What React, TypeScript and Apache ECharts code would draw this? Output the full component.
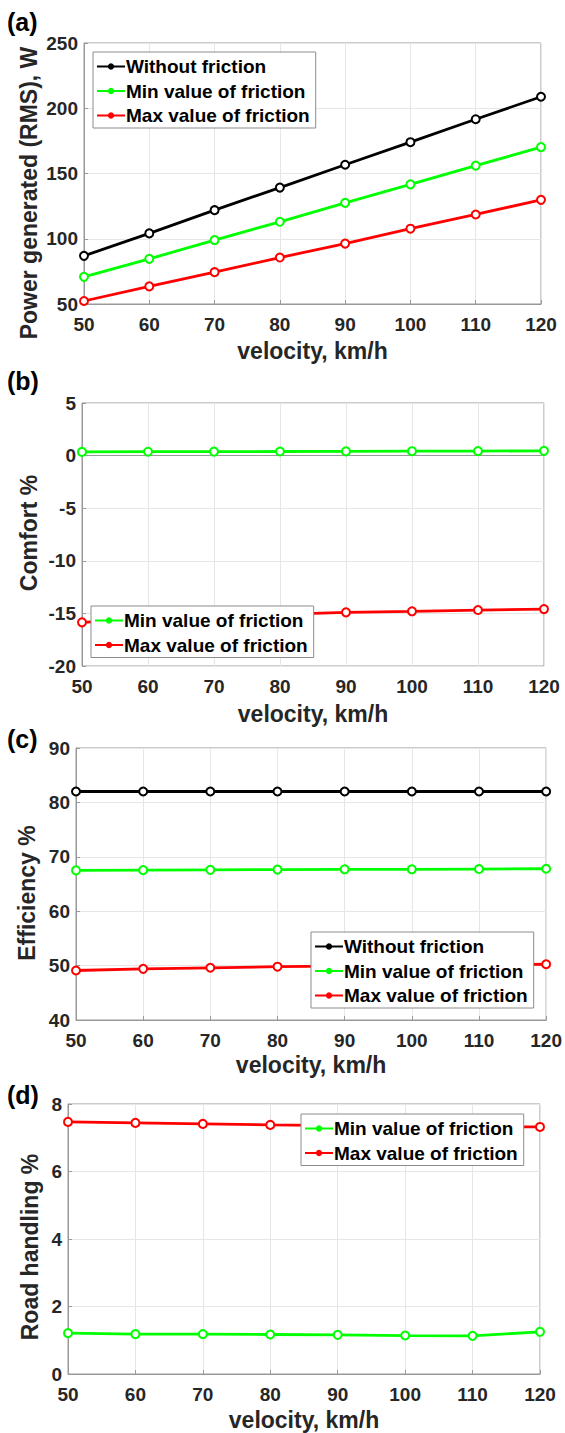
import React, { useEffect, useRef } from "react";
import * as echarts from "echarts";

const velocity = [50, 60, 70, 80, 90, 100, 110, 120];

const powerWithout = [86.9, 104.1, 121.9, 139.2, 156.7, 174.0, 191.6, 208.8];
const powerMin = [70.8, 84.6, 99.0, 113.0, 127.5, 141.7, 156.0, 170.2];
const powerMax = [52.3, 63.5, 74.4, 85.6, 96.3, 107.7, 118.6, 129.8];

const comfortMin = [0.35, 0.37, 0.38, 0.39, 0.4, 0.42, 0.43, 0.45];
const comfortMax = [-15.85, -15.55, -15.3, -15.1, -14.9, -14.8, -14.68, -14.59];

const effWithout = [82.0, 82.0, 82.0, 82.0, 82.0, 82.0, 82.0, 82.0];
const effMin = [67.5, 67.55, 67.6, 67.65, 67.7, 67.7, 67.75, 67.8];
const effMax = [49.1, 49.4, 49.6, 49.8, 49.9, 50.0, 50.1, 50.25];

const roadMin = [1.21, 1.18, 1.18, 1.17, 1.16, 1.14, 1.13, 1.25];
const roadMax = [7.47, 7.44, 7.41, 7.38, 7.36, 7.35, 7.33, 7.32];

const NAME_W = "Without friction";
const NAME_MIN = "Min value of friction";
const NAME_MAX = "Max value of friction";
const COLORS: Record<string, string> = {
  [NAME_W]: "#000000",
  [NAME_MIN]: "#00ff00",
  [NAME_MAX]: "#ff0000",
};

const FONT = "'Liberation Sans', Arial, sans-serif";

export default function App() {
  const ref = useRef<HTMLDivElement>(null);
  useEffect(() => {
    if (!ref.current) return;
    const chart = echarts.init(ref.current, undefined, { renderer: "svg" });

    const grids = [
      { left: 84, top: 43, width: 457, height: 261 },
      { left: 82, top: 403, width: 462, height: 263 },
      { left: 76, top: 748, width: 475, height: 272 },
      { left: 68, top: 1104, width: 472, height: 270 },
    ];
    const yRanges = [
      { min: 50, max: 250, interval: 50 },
      { min: -20, max: 5, interval: 5 },
      { min: 40, max: 90, interval: 10 },
      { min: 0, max: 8, interval: 2 },
    ];
    const xNameGap = [35, 36, 33, 34];

    const axisLabel = {
      fontFamily: FONT,
      fontWeight: "bold" as const,
      fontSize: 19,
      color: "#262626",
    };
    const splitLine = { show: true, lineStyle: { color: "#e6e6e6", width: 1 } };

    const xAxis = grids.map((_, i) => ({
      type: "value",
      gridIndex: i,
      min: 50,
      max: 120,
      interval: 10,
      name: "velocity, km/h",
      nameLocation: "middle",
      nameGap: xNameGap[i],
      nameTextStyle: { fontFamily: FONT, fontWeight: "bold", fontSize: 23, color: "#262626" },
      axisLine: { show: true, lineStyle: { color: "#999999", width: 1 } },
      axisTick: { show: true, inside: true, length: 4, lineStyle: { color: "#999999" } },
      axisLabel: { ...axisLabel, margin: 11 },
      splitLine,
    }));
    const yAxis = grids.map((_, i) => ({
      type: "value",
      gridIndex: i,
      ...yRanges[i],
      axisLine: { show: true, lineStyle: { color: "#999999", width: 1 } },
      axisTick: { show: true, inside: true, length: 4, lineStyle: { color: "#999999" } },
      axisLabel: { ...axisLabel, margin: 6 },
      splitLine,
    }));

    const mk = (name: string, data: number[], idx: number) => ({
      type: "line",
      name,
      xAxisIndex: idx,
      yAxisIndex: idx,
      data: velocity.map((v, k) => [v, data[k]]),
      symbol: "circle",
      symbolSize: 8,
      showSymbol: true,
      lineStyle: { color: COLORS[name], width: 2.8 },
      itemStyle: { color: "#ffffff", borderColor: COLORS[name], borderWidth: 2 },
      z: 2,
    });

    const series = [
      mk(NAME_W, powerWithout, 0),
      mk(NAME_MIN, powerMin, 0),
      mk(NAME_MAX, powerMax, 0),
      mk(NAME_MIN, comfortMin, 1),
      mk(NAME_MAX, comfortMax, 1),
      mk(NAME_W, effWithout, 2),
      mk(NAME_MIN, effMin, 2),
      mk(NAME_MAX, effMax, 2),
      mk(NAME_MIN, roadMin, 3),
      mk(NAME_MAX, roadMax, 3),
    ];

    const legendItem = (n: string) => ({
      name: n,
      itemStyle: { color: COLORS[n], borderColor: COLORS[n], borderWidth: 0 },
    });
    const legendBase = {
      orient: "vertical",
      backgroundColor: "#ffffff",
      borderColor: "#8c8c8c",
      borderWidth: 1,
      borderRadius: 0,
      padding: [5, 6, 3, 3],
      itemWidth: 28,
      itemHeight: 8,
      itemGap: 5.5,
      selectedMode: false,
      textStyle: { fontFamily: FONT, fontWeight: "bold", fontSize: 19, color: "#000000", padding: [0, 0, 0, -4] },
      z: 10,
    };
    const legend = [
      { ...legendBase, left: 93, top: 52, data: [NAME_W, NAME_MIN, NAME_MAX].map(legendItem) },
      { ...legendBase, left: 91, top: 606, data: [NAME_MIN, NAME_MAX].map(legendItem) },
      { ...legendBase, left: 311, top: 932, data: [NAME_W, NAME_MIN, NAME_MAX].map(legendItem) },
      { ...legendBase, left: 301, top: 1114, data: [NAME_MIN, NAME_MAX].map(legendItem) },
    ];

    const panelLabels = [
      { t: "(a)", y: 22 },
      { t: "(b)", y: 381 },
      { t: "(c)", y: 739 },
      { t: "(d)", y: 1095 },
    ];
    const yNames = [
      { t: "Power generated (RMS), W", x: 29, y: 193 },
      { t: "Comfort %", x: 29, y: 533 },
      { t: "Efficiency %", x: 27, y: 893 },
      { t: "Road handling %", x: 30, y: 1247 },
    ];
    const graphic = [
      ...panelLabels.map((p) => ({
        type: "text",
        x: 7,
        y: p.y,
        style: {
          text: p.t,
          fontFamily: FONT,
          fontWeight: "bold",
          fontSize: 25,
          fill: "#000000",
          verticalAlign: "middle",
        },
      })),
      ...yNames.map((n) => ({
        type: "text",
        x: n.x,
        y: n.y,
        rotation: Math.PI / 2,
        style: {
          text: n.t,
          fontFamily: FONT,
          fontWeight: "bold",
          fontSize: 23,
          fill: "#262626",
          align: "center",
          verticalAlign: "middle",
        },
      })),
    ];

    chart.setOption({
      animation: false,
      backgroundColor: "#ffffff",
      grid: grids.map((g) => ({ ...g, show: true, borderColor: "#999999", borderWidth: 1, backgroundColor: "transparent" })),
      xAxis,
      yAxis,
      legend,
      series,
      graphic,
    });
    return () => chart.dispose();
  }, []);

  return (
    <div
      ref={ref}
      style={{ position: "absolute", left: 0, top: 0, width: 565, height: 1433 }}
    />
  );
}
